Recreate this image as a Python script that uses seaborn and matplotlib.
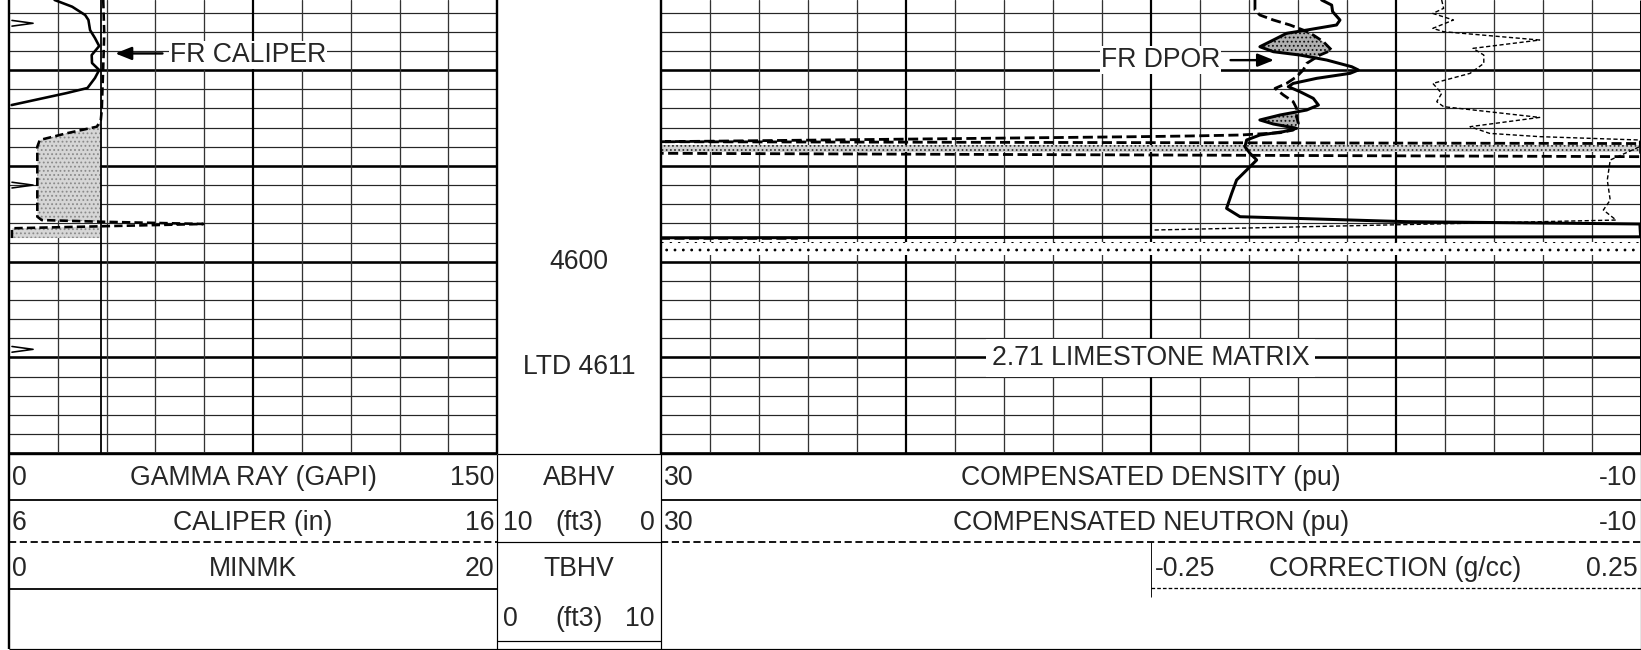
import numpy as np
import matplotlib
matplotlib.use("Agg")
import matplotlib.pyplot as plt
import seaborn as sns

# ---- scales -------------------------------------------------------------
DEPTH_TOP, DEPTH_BOT = 4572.67, 4620.08
GR_RANGE = (0, 150)
CAL_RANGE = (6, 16)
POR_RANGE = (30, -10)
CORR_RANGE = (-0.25, 0.25)
BIT_SIZE = 7.875
CROSSOVER_BOTTOM = 4586.5

# ---- curves -----------------------------------------
gr_depth = [4572.67, 4573.37, 4574.24, 4574.76, 4575.81, 4576.64, 4577.48,
            4578.42, 4579.25, 4579.98, 4580.82, 4581.86, 4582.39, 4583.64]
gr_val = [14.0, 19.4, 23.4, 24.4, 24.9, 26.4, 27.7,
          25.4, 25.5, 27.7, 26.4, 24.1, 17.7, 0.8]

volume_tick_depth = [4575.1, 4592.0, 4609.15]
volume_tick_val = 7.4

cal_depth = [4572.67, 4576.15, 4579.64, 4584.16, 4585.20, 4585.90, 4586.59,
             4587.29, 4587.99, 4595.30, 4595.65, 4595.82, 4596.06, 4596.51,
             4597.53]
cal_val = [7.93, 7.95, 7.93, 7.90, 7.88, 7.80, 7.18,
           6.63, 6.58, 6.58, 6.67, 7.86, 9.98, 6.06,
           6.06]

den_depth = [4572.67, 4573.20, 4573.89, 4574.76, 4575.28, 4575.81, 4576.15,
             4576.85, 4577.55, 4578.07, 4578.42, 4578.94, 4579.64, 4579.98,
             4580.33, 4580.85, 4581.38, 4581.72, 4582.25, 4582.94, 4583.64,
             4584.16, 4584.68, 4585.20, 4585.62, 4586.07, 4586.42, 4586.77,
             4587.29, 4587.99, 4588.69, 4589.38, 4590.43, 4591.47, 4592.86,
             4594.43, 4595.30, 4595.82, 4596.06, 4597.40, 4597.50]
den_pu = [3.02, 2.61, 2.57, 2.27, 2.41, 3.63, 4.45,
          4.99, 5.54, 4.99, 3.90, 2.81, 1.79, 1.52,
          1.86, 3.22, 4.18, 4.38, 3.90, 3.36, 3.15,
          3.63, 4.72, 5.54, 4.99, 4.04, 4.58, 5.54,
          6.08, 6.15, 5.94, 5.67, 6.08, 6.49, 6.69,
          6.90, 6.35, -0.45, -9.97, -10.0, 30.0]

neu_depth = [4572.67, 4573.72, 4574.24, 4574.76, 4575.28, 4575.81, 4576.33,
             4577.02, 4577.90, 4578.42, 4579.29, 4579.98, 4580.68, 4581.38,
             4581.90, 4582.59, 4583.29, 4583.99, 4584.86, 4585.55, 4586.25,
             4586.53, 4586.77, 4586.87, 4586.94, 4587.47, 4587.66, 4589.03,
             4588.68, 4597.56, 4597.56]
neu_pu = [5.74, 5.74, 5.54, 4.99, 4.31, 3.77, 3.36,
          2.95, 2.61, 3.09, 3.63, 3.77, 4.04, 4.45,
          4.92, 4.58, 4.18, 4.04, 4.04, 3.97, 4.18,
          4.72, 6.35, 8.39, 10.43, 30.0, -10.0, -10.0,
          30.0, 30.0, 24.4]

corr_depth = [4572.67, 4573.54, 4574.07, 4574.76, 4575.63, 4575.98, 4576.85,
              4577.72, 4578.42, 4579.29, 4580.33, 4581.38, 4582.42, 4583.29,
              4583.81, 4584.93, 4585.90, 4586.60, 4586.94, 4587.29, 4587.99,
              4589.38, 4591.47, 4593.56, 4594.60, 4595.65, 4596.69]
corr_val = [0.047, 0.049, 0.038, 0.059, 0.038, 0.049, 0.147,
            0.079, 0.090, 0.090, 0.076, 0.038, 0.047, 0.042,
            0.049, 0.147, 0.076, 0.096, 0.147, 0.249, 0.249,
            0.219, 0.216, 0.219, 0.212, 0.225, -0.247]

wrap_band = (4587.85, 4588.50)
lower_band = (4597.95, 4599.35)

depth_labels = ["4600", "LTD 4611"]
depth_label_at = [4600, 4611]

# header: (left value, title, right value)
track1_rows = [("0", "GAMMA RAY (GAPI)", "150"),
               ("6", "CALIPER (in)", "16"),
               ("0", "MINMK", "20")]
track2_rows = [("30", "COMPENSATED DENSITY (pu)", "-10"),
               ("30", "COMPENSATED NEUTRON (pu)", "-10")]
corr_row = ("-0.25", "CORRECTION (g/cc)", "0.25")
depth_rows = [("", "ABHV", ""), ("10", "(ft3)", "0"),
              ("", "TBHV", ""), ("0", "(ft3)", "10")]

# ---- layout (pixels) ----------------------------------------------------
W, H = 1641, 650
GRID_BOTTOM = 454
T1 = (9, 497.3)
DT = (497.3, 660.6)
T2 = (660.6, 1640.6)
FS = 19.2
PT = 0.72  # points per pixel at 100 dpi

sns.set_style("white")
plt.rcParams["font.family"] = ["Liberation Sans", "DejaVu Sans"]
plt.rcParams["hatch.linewidth"] = 0.8

fig = plt.figure(figsize=(W / 100, H / 100), dpi=100)


def track_axes(x0, x1, xlim, z=1):
    ax = fig.add_axes([x0 / W, 1 - GRID_BOTTOM / H, (x1 - x0) / W, GRID_BOTTOM / H])
    ax.set_xlim(*xlim)
    ax.set_ylim(DEPTH_BOT, DEPTH_TOP)
    ax.set_axis_off()
    ax.patch.set_alpha(0)
    ax.set_zorder(z)
    return ax


def draw_grid(ax, xs, heavy_x):
    grid_depth = np.arange(4574, 4621, 2)
    for d in grid_depth:
        heavy = d % 10 == 0
        ax.axhline(d, color="black" if heavy else "#262626",
                   lw=2.6 * PT if heavy else 1.2 * PT, zorder=1)
    for x in xs:
        heavy = x in heavy_x
        ax.axvline(x, color="black" if heavy else "#333333",
                   lw=2.2 * PT if heavy else 1.3 * PT, zorder=1)


def curve(ax, vals, depths, lw, ls="-"):
    sns.lineplot(x=vals, y=depths, ax=ax, orient="y", sort=False,
                 estimator=None, color="black", linewidth=lw * PT,
                 linestyle=ls, zorder=4)


arrow_style = dict(arrowstyle="-|>,head_length=0.7,head_width=0.28",
                   color="black", lw=2.4 * PT, mutation_scale=14)

# ---- track 1: gamma ray / caliper --------------------------------------
ax1 = track_axes(*T1, GR_RANGE)
draw_grid(ax1, np.arange(15, 150, 15), [75])
curve(ax1, gr_val, gr_depth, 2.6)
for d in volume_tick_depth:
    curve(ax1, [0.9, volume_tick_val, 0.9], [d - 0.3, d, d + 0.3], 1.6)
ax1.set_xlim(*GR_RANGE)
ax1.set_ylim(DEPTH_BOT, DEPTH_TOP)

ax1c = track_axes(*T1, CAL_RANGE, z=2)
cd, cv = np.array(cal_depth), np.array(cal_val)
ax1c.fill_betweenx(cd, cv, BIT_SIZE, where=cv < BIT_SIZE, interpolate=True,
                   facecolor="#d6d6d6", edgecolor="#8a8a8a", hatch="....",
                   linewidth=0, zorder=2)
ax1c.axvline(BIT_SIZE, color="black", lw=1.8 * PT, zorder=3)
curve(ax1c, cal_val, cal_depth, 2.6, (0, (3.2, 1.6)))
ax1c.set_xlim(*CAL_RANGE)
ax1c.set_ylim(DEPTH_BOT, DEPTH_TOP)
ax1c.annotate("", xy=(8.12, 4578.25), xytext=(9.2, 4578.25),
              arrowprops=arrow_style, zorder=6)
ax1c.text(9.3, 4578.4, "FR CALIPER", fontsize=FS, ha="left", va="center",
          bbox=dict(fc="white", ec="none", pad=0.5), zorder=5)

# ---- depth track --------------------------------------------------------
axd = track_axes(*DT, (0, 1))
for lbl, d in zip(depth_labels, depth_label_at):
    axd.text(0.5, d, lbl, fontsize=FS, ha="center", va="center")

# ---- track 2: porosity --------------------------------------------------
ax2 = track_axes(*T2, POR_RANGE)
draw_grid(ax2, np.arange(28, -10, -2), [20, 10, 0])

dd, dv = np.array(den_depth), np.array(den_pu)
nd, nv = np.array(neu_depth), np.array(neu_pu)
md, mn = dd < CROSSOVER_BOTTOM, nd < CROSSOVER_BOTTOM
zone = np.union1d(dd[md], nd[mn])
den_i = np.interp(zone, dd[md], dv[md])
neu_i = np.interp(zone, nd[mn], nv[mn])
ax2.fill_betweenx(zone, den_i, neu_i, where=den_i > neu_i, interpolate=True,
                  facecolor="#b0b0b0", edgecolor="#111111", hatch="....",
                  linewidth=0, zorder=2)
ax2.fill_betweenx(list(wrap_band), POR_RANGE[1], POR_RANGE[0],
                  facecolor="#d2d2d2", edgecolor="#333333", hatch="....",
                  linewidth=0, zorder=2)
ax2.fill_betweenx(list(lower_band), POR_RANGE[1], POR_RANGE[0],
                  facecolor="white", edgecolor="black", hatch="..",
                  linewidth=0, zorder=2)

curve(ax2, den_pu, den_depth, 3.0)
curve(ax2, neu_pu, neu_depth, 2.8, (0, (3.6, 1.6)))
ax2.set_xlim(*POR_RANGE)
ax2.set_ylim(DEPTH_BOT, DEPTH_TOP)

ax2.annotate("", xy=(4.85, 4578.95), xytext=(6.85, 4578.95),
             arrowprops=arrow_style, zorder=6)
ax2.text(7.15, 4578.95, "FR DPOR", fontsize=FS, ha="right", va="center",
         bbox=dict(fc="white", ec="none", pad=0.5), zorder=5)
ax2.text(10, 4610.05, "2.71 LIMESTONE MATRIX", fontsize=FS, ha="center",
         va="center", bbox=dict(fc="white", ec="none", pad=4), zorder=5)

axc = track_axes((T2[0] + T2[1]) / 2, T2[1], CORR_RANGE, z=2)
curve(axc, corr_val, corr_depth, 1.4, (0, (3.0, 1.8)))
axc.set_xlim(*CORR_RANGE)
axc.set_ylim(DEPTH_BOT, DEPTH_TOP)

# ---- header / borders (pixel overlay) -----------------------------------
axh = fig.add_axes([0, 0, 1, 1])
axh.set_xlim(0, W)
axh.set_ylim(H, 0)
axh.set_axis_off()
axh.patch.set_alpha(0)
axh.set_zorder(10)

K = "black"
thick, mid, thin = 2.4 * PT, 1.8 * PT, 1.2 * PT
dash = (0, (4.0, 2.0))

# track borders over the grid
axh.vlines([T1[0], T1[1], T2[0]], 0, GRID_BOTTOM, color=K, lw=thick)
axh.vlines(T2[1], 0, GRID_BOTTOM, color=K, lw=3.0 * PT)
axh.hlines(GRID_BOTTOM, *T1, color=K, lw=thick)
axh.hlines(GRID_BOTTOM, *T2, color=K, lw=thick)
axh.hlines(GRID_BOTTOM, *DT, color=K, lw=thin)

# header frame
axh.vlines([T1[0]], GRID_BOTTOM, 649, color=K, lw=thick)
axh.vlines([T1[1], T2[0], T2[1]], GRID_BOTTOM, 649, color=K, lw=thin)
axh.hlines(649, T1[0], T2[1], color=K, lw=thin)
axh.hlines(500, *T1, color=K, lw=mid)
axh.hlines(500, *T2, color=K, lw=mid)
axh.hlines(542, *T1, color=K, lw=mid, linestyles=dash)
axh.hlines(542, *T2, color=K, lw=mid, linestyles=dash)
axh.hlines(542, *DT, color=K, lw=thin)
axh.hlines(589, *T1, color=K, lw=mid)
axh.hlines(641, *DT, color=K, lw=thin)
mid2 = (T2[0] + T2[1]) / 2
axh.vlines(mid2, 542, 597, color=K, lw=0.9 * PT)
axh.hlines(588, mid2, T2[1], color=K, lw=1.3 * PT, linestyles=(0, (2.8, 1.6)))

row_y = [478, 523.5, 569.5]
for (l, c, r), y in zip(track1_rows, row_y):
    axh.text(T1[0] + 3, y, l, fontsize=FS, ha="left", va="center")
    axh.text(sum(T1) / 2, y, c, fontsize=FS, ha="center", va="center")
    axh.text(T1[1] - 3, y, r, fontsize=FS, ha="right", va="center")
for (l, c, r), y in zip(track2_rows, row_y):
    axh.text(T2[0] + 3, y, l, fontsize=FS, ha="left", va="center")
    axh.text(sum(T2) / 2, y, c, fontsize=FS, ha="center", va="center")
    axh.text(T2[1] - 3, y, r, fontsize=FS, ha="right", va="center")
l, c, r = corr_row
axh.text(mid2 + 4, 569.5, l, fontsize=FS, ha="left", va="center")
axh.text((mid2 + T2[1]) / 2, 569.5, c, fontsize=FS, ha="center", va="center")
axh.text(T2[1] - 3, 569.5, r, fontsize=FS, ha="right", va="center")

for (l, c, r), y in zip(depth_rows, [478, 523.5, 569.5, 619]):
    axh.text(DT[0] + 6, y, l, fontsize=FS, ha="left", va="center")
    axh.text(sum(DT) / 2, y, c, fontsize=FS, ha="center", va="center")
    axh.text(DT[1] - 6, y, r, fontsize=FS, ha="right", va="center")

fig.savefig("out.png", dpi=100, facecolor="white")
